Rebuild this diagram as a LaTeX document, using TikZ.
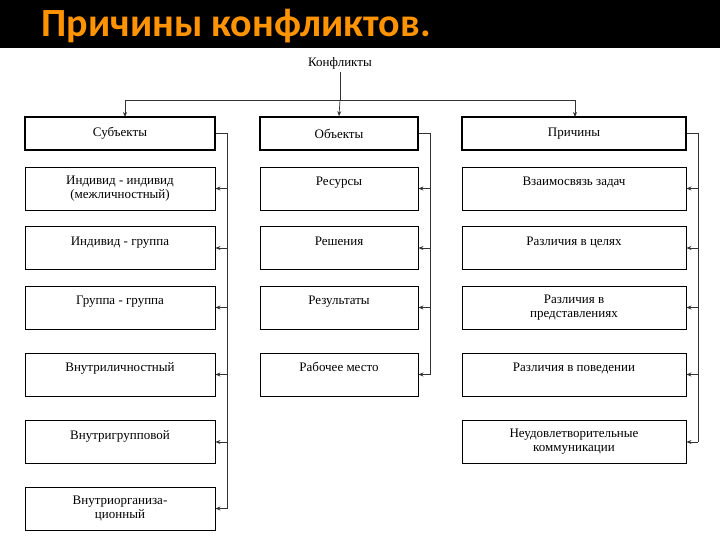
\documentclass[tikz,border=0pt]{standalone}
\usepackage{fontspec}
\setmainfont{Liberation Serif}
\newfontfamily\titlefont{Carlito}
\usetikzlibrary{arrows.meta}
\begin{document}
\begin{tikzpicture}[x=1pt,y=-1pt,
  bx/.style={draw,line width=0.9pt,minimum height=43pt,inner sep=1pt,font=\fontsize{13}{14}\selectfont,align=center},
  up/.style={text height=9pt,text depth=15pt},
  hd/.style={draw,line width=1.8pt,minimum height=33pt,font=\fontsize{13}{14}\selectfont},
  ln/.style={draw,line width=0.7pt,black!80},
  ar/.style={ln,-{Stealth[length=5pt,width=4pt]}}]
\useasboundingbox (0,0) rectangle (720,540);
\fill[white] (0,0) rectangle (720,540);
\fill[black] (0,0) rectangle (720,48);
\node[anchor=west,text=orange!85!yellow,font=\titlefont\bfseries\fontsize{40}{42}\selectfont] (title) at (38,26) {Причины конфликтов.};
\node[font=\fontsize{13}{14}\selectfont] (k) at (340,63) {Конфликты};
% headers
\node[hd,minimum width=190pt] (h1) at (120,133.5) {Субъекты};
\node[hd,minimum width=158pt] (h2) at (339,133.5) {Объекты};
\node[hd,minimum width=224pt] (h3) at (574,133.5) {Причины};
\coordinate (j) at (340,100);
\draw[ln] (k.south) -- (j);
\draw[ln] (125,100) -- (575,100);
\draw[ar] (125,100) -- (125,117);
\draw[ar] (j) -- (h2.north);
\draw[ar] (575,100) -- (575,117);
% column 1
\node[bx,minimum width=190pt] (a1) at (120,188.5) {Индивид - индивид\\(межличностный)};
\node[bx,up,minimum width=190pt] (a2) at (120,248) {Индивид - группа};
\node[bx,up,minimum width=190pt] (a3) at (120,307.5) {Группа - группа};
\node[bx,up,minimum width=190pt] (a4) at (120,374.5) {Внутриличностный};
\node[bx,up,minimum width=190pt] (a5) at (120,442) {Внутригрупповой};
\node[bx,minimum width=190pt] (a6) at (120,508.5) {Внутриорганиза-\\ционный};
% column 2
\node[bx,up,minimum width=158pt] (b1) at (339,188.5) {Ресурсы};
\node[bx,up,minimum width=158pt] (b2) at (339,248) {Решения};
\node[bx,up,minimum width=158pt] (b3) at (339,307.5) {Результаты};
\node[bx,up,minimum width=158pt] (b4) at (339,374.5) {Рабочее место};
% column 3
\node[bx,up,minimum width=224pt] (c1) at (574,188.5) {Взаимосвязь задач};
\node[bx,up,minimum width=224pt] (c2) at (574,248) {Различия в целях};
\node[bx,minimum width=224pt] (c3) at (574,307.5) {Различия в\\представлениях};
\node[bx,up,minimum width=224pt] (c4) at (574,374.5) {Различия в поведении};
\node[bx,minimum width=224pt] (c5) at (574,442) {Неудовлетворительные\\коммуникации};
% feedback lines
\draw[ln] (h1.east) -- (227,133.5) -- (227,508.5);
\foreach \n in {a1,a2,a3,a4,a5,a6} \draw[ar] (227,0 |- \n.east) -- (\n.east);
\draw[ln] (h2.east) -- (430,133.5) -- (430,374.5);
\foreach \n in {b1,b2,b3,b4} \draw[ar] (430,0 |- \n.east) -- (\n.east);
\draw[ln] (h3.east) -- (698,133.5) -- (698,442);
\foreach \n in {c1,c2,c3,c4,c5} \draw[ar] (698,0 |- \n.east) -- (\n.east);
\end{tikzpicture}
\end{document}
